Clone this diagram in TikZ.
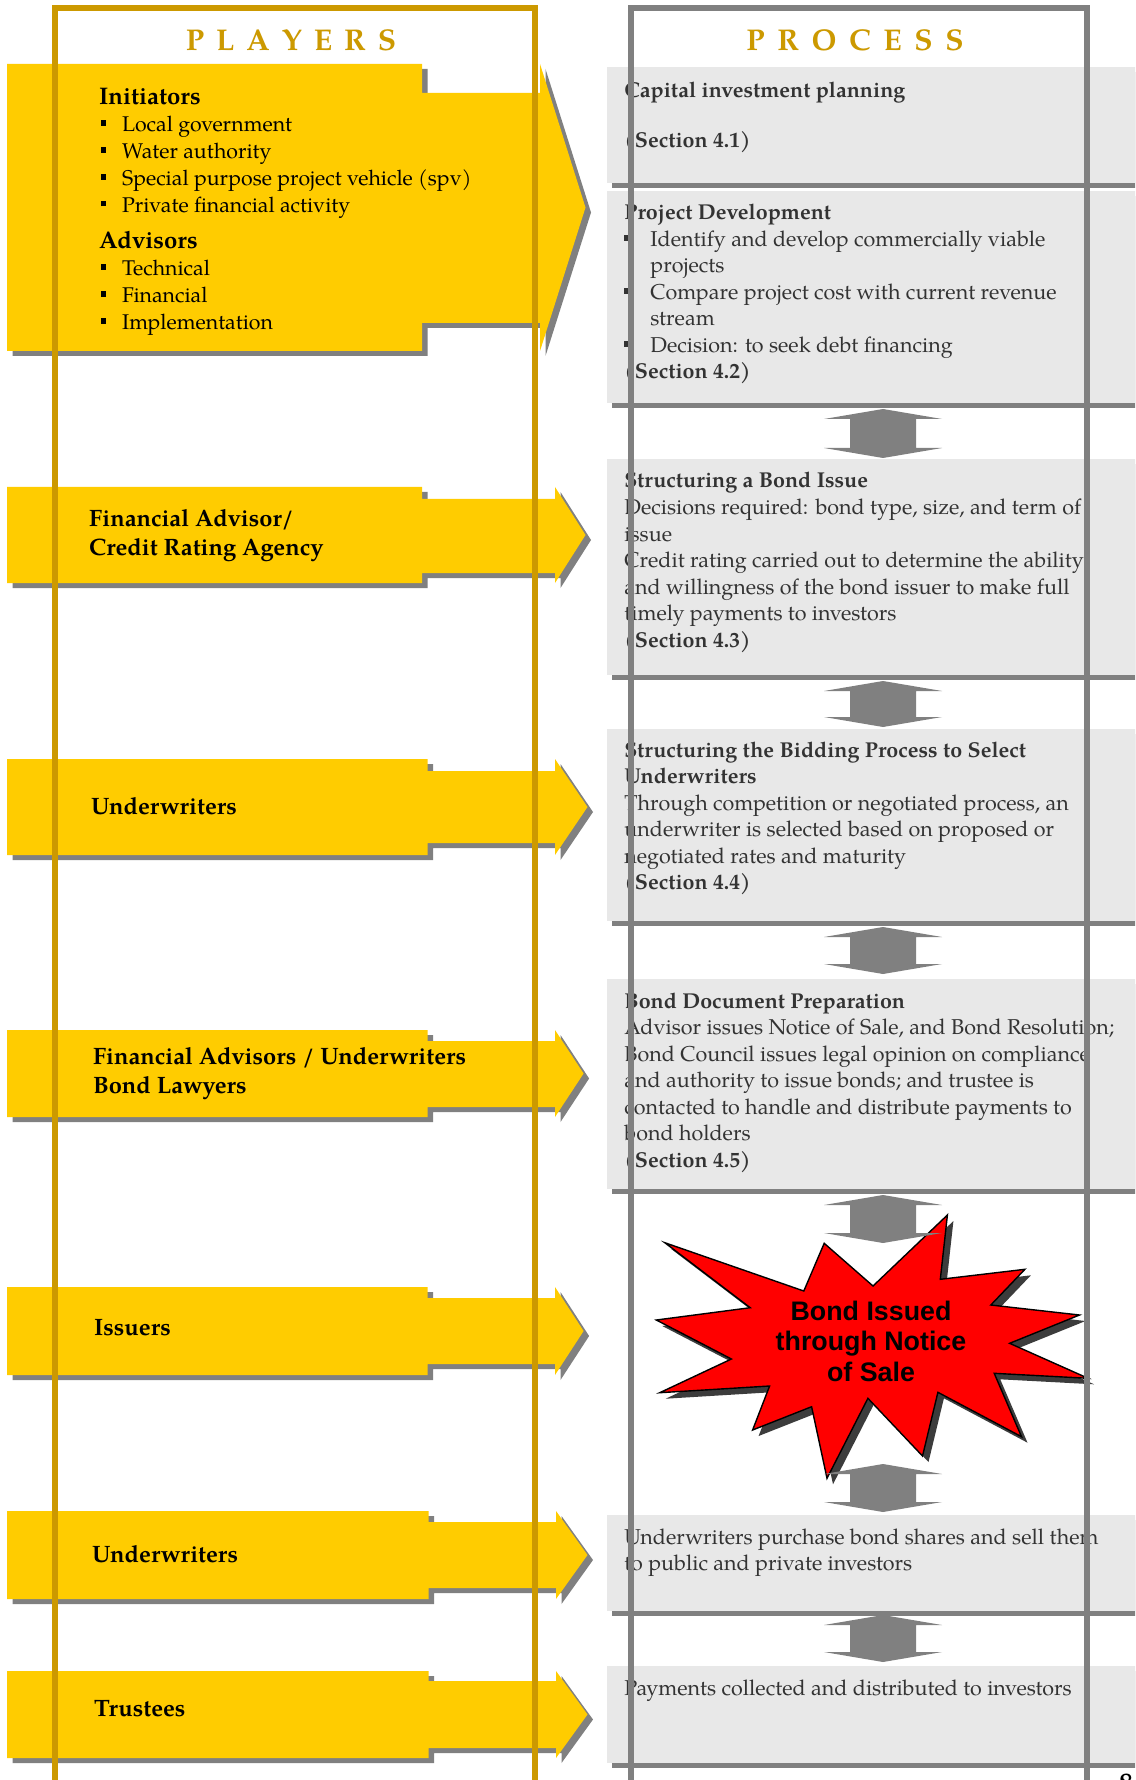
\documentclass[tikz,border=0pt]{standalone}
\usepackage{fontspec}
\setmainfont{TeX Gyre Pagella}
\newfontfamily\starfont{Liberation Sans}
\definecolor{gold}{RGB}{255,204,0}
\definecolor{darkgold}{RGB}{204,153,0}
\definecolor{shadowgray}{RGB}{128,128,128}
\definecolor{boxgray}{RGB}{232,232,232}
\definecolor{proctext}{RGB}{51,51,51}
\definecolor{starshadow}{RGB}{60,60,60}
\newcommand\plbul{\makebox[11.5pt][l]{\hspace{0.8pt}\raisebox{2.9pt}{\rule{2.8pt}{2.8pt}}}}
\newcommand\prbul{\makebox[13pt][l]{\hspace{-0.3pt}\raisebox{2.9pt}{\rule{3pt}{3pt}}}}
% T B S st sb H X
\newcommand\playerarrow[7]{%
  \fill[shadowgray,shift={(5.5,5)}] (7,#1) -- (#3,#1) -- (#3,#4) -- (#6,#4) -- (#6,#1) -- (#7,{(#1+#2)/2}) -- (#6,#2) -- (#6,#5) -- (#3,#5) -- (#3,#2) -- (7,#2) -- cycle;
  \fill[gold] (7,#1) -- (#3,#1) -- (#3,#4) -- (#6,#4) -- (#6,#1) -- (#7,{(#1+#2)/2}) -- (#6,#2) -- (#6,#5) -- (#3,#5) -- (#3,#2) -- (7,#2) -- cycle;}
\newcommand\procbox[2]{%
  \fill[shadowgray] (612,#1+5) rectangle (1140,#2+5);
  \fill[boxgray] (607,#1) rectangle (1140,#2);}
\newcommand\procarrow[2]{%
  \fill[shadowgray] (883,#1) -- (942,#1+10) -- (916,#1+10) -- (916,#2-10) -- (942,#2-10) -- (883,#2) -- (824,#2-10) -- (850,#2-10) -- (850,#1+10) -- (824,#1+10) -- cycle;}
\newcommand\burst[1]{%
  \path[#1] (656.3,1320) -- (750.2,1307.7) -- (664.8,1242.7) -- (803.8,1291) -- (824.2,1243.3) -- (873,1286) -- (947.4,1215) -- (940.3,1279.3) -- (1024.9,1269.3) -- (990.8,1305) -- (1079.5,1315) -- (1009.6,1343.3) -- (1088.1,1378.3) -- (994.2,1373.3) -- (1021.5,1436.7) -- (937.9,1392.3) -- (922.5,1456) -- (867.9,1398.3) -- (827,1478.3) -- (811.6,1406.7) -- (752.6,1430) -- (769.6,1386) -- (659.7,1392.7) -- (731.4,1359) -- cycle;}
\tikzset{
  ptext/.style={anchor=base west, inner sep=0pt, text=proctext, font=\fontsize{10.75}{13.25}\selectfont},
  pltext/.style={anchor=base west, inner sep=0pt, text=black, font=\fontsize{11.85}{14.5}\selectfont\bfseries},
  heading/.style={anchor=base, inner sep=0pt, text=darkgold, font=\fontsize{15}{18}\selectfont\bfseries},
}
\newcommand\plhead[1]{{\fontsize{12}{13.4}\selectfont\bfseries #1}}
\begin{document}
\begin{tikzpicture}[x=0.5pt,y=-0.5pt,line join=miter]
\useasboundingbox (0,0) rectangle (1135,1780);
\clip (0,0) rectangle (1135,1780);
\fill[white] (0,0) rectangle (1135,1780);
% player arrows
\playerarrow{64}{351}{422}{93}{323}{540}{585.5}
\playerarrow{487}{583}{422}{499}{573}{555}{585.5}
\playerarrow{759}{855}{427.5}{771}{843}{555}{587.5}
\playerarrow{1030}{1117}{427.5}{1041}{1107}{555}{583.6}
\playerarrow{1287}{1375}{427.5}{1298}{1364}{555}{583.6}
\playerarrow{1511}{1599}{428.6}{1522}{1588}{556}{587.5}
\playerarrow{1671}{1758}{428.6}{1681}{1748}{556}{587.5}
% player texts
\node[anchor=base west, inner sep=0pt, font=\fontsize{10.65}{13.4}\selectfont] (init) at (98.7,105) {\parbox[t]{240pt}{\plhead{Initiators}\\
\plbul Local government\\
\plbul Water authority\\
\plbul Special purpose project vehicle (spv)\\
\plbul Private financial activity\\[5pt]
\plhead{Advisors}\\
\plbul Technical\\
\plbul Financial\\
\plbul Implementation}};
\node[pltext] (fa) at (88.8,526) {\parbox[t]{240pt}{Financial Advisor/\\Credit Rating Agency}};
\node[pltext] (uw1) at (90.7,814) {Underwriters};
\node[pltext] (fau) at (92.6,1064) {\parbox[t]{240pt}{Financial Advisors / Underwriters\\Bond Lawyers}};
\node[pltext] (iss) at (93.8,1335) {Issuers};
\node[pltext] (uw2) at (91.8,1562) {Underwriters};
\node[pltext] (tru) at (93.8,1716) {Trustees};
% process boxes
\procbox{67}{183}
\procbox{191}{403}
\procbox{459}{675}
\procbox{729}{921}
\procbox{979}{1189}
\procbox{1515}{1611}
\procbox{1666}{1763}
\node[ptext] (p1) at (624,98) {\parbox[t]{300pt}{\textbf{Capital investment planning}\\[11.75pt]\textbf{(Section 4.1)}}};
\node[ptext] (p2) at (624,220) {\parbox[t]{300pt}{\textbf{Project Development}\\
\prbul Identify and develop commercially viable\\
\hspace*{13pt}projects\\
\prbul Compare project cost with current revenue\\
\hspace*{13pt}stream\\
\prbul Decision: to seek debt financing\\
\textbf{(Section 4.2)}}};
\node[ptext] (p3) at (624,488) {\parbox[t]{300pt}{\textbf{Structuring a Bond Issue}\\
Decisions required: bond type, size, and term of\\
issue\\
Credit rating carried out to determine the ability\\
and willingness of the bond issuer to make full\\
timely payments to investors\\
\textbf{(Section 4.3)}}};
\node[ptext] (p4) at (624,757) {\parbox[t]{300pt}{\textbf{Structuring the Bidding Process to Select}\\
\textbf{Underwriters}\\
Through competition or negotiated process, an\\
underwriter is selected based on proposed or\\
negotiated rates and maturity\\
\textbf{(Section 4.4)}}};
\node[ptext] (p5) at (624,1008) {\parbox[t]{300pt}{\textbf{Bond Document Preparation}\\
Advisor issues Notice of Sale, and Bond Resolution;\\
Bond Council issues legal opinion on compliance\\
and authority to issue bonds; and trustee is\\
contacted to handle and distribute payments to\\
bond holders\\
\textbf{(Section 4.5)}}};
\node[ptext] (p6) at (624,1544) {\parbox[t]{300pt}{Underwriters purchase bond shares and sell them\\
to public and private investors}};
\node[ptext] (p7) at (624,1695) {Payments collected and distributed to investors};
% star
\burst{fill=starshadow,shift={(6,6)}}
\burst{fill=red,draw=black,line width=0.7pt}
\node[anchor=base, inner sep=0pt, font={\starfont\bfseries\fontsize{13.4}{15.4}\selectfont}] (starlbl) at (871,1320) {\begin{tabular}[t]{@{}c@{}}Bond Issued\\through Notice\\of Sale\end{tabular}};
% process arrows
\procarrow{409}{458}
\procarrow{681}{727}
\procarrow{927}{974}
\procarrow{1195}{1243}
\procarrow{1464}{1512}
\procarrow{1615}{1662}
% headings
\node[heading] (players) at (291,50.7) {P\hspace{6pt}L\hspace{6pt}A\hspace{6pt}Y\hspace{6pt}E\hspace{6pt}R\hspace{6pt}S};
\node[heading] (process) at (855,50.7) {P\hspace{6.3pt}R\hspace{6.3pt}O\hspace{6.3pt}C\hspace{6.3pt}E\hspace{6.3pt}S\hspace{6.3pt}S};
% frames
\draw[darkgold, line width=2.85pt] (55.3,1800) -- (55.3,8) -- (535,8) -- (535,1800);
\draw[shadowgray, line width=3pt] (631,1800) -- (631,8) -- (1087,8) -- (1087,1800);
% page number (cut off at the page edge)
\node[anchor=base, inner sep=0pt, font=\fontsize{14}{16}\selectfont\bfseries] (pagenum) at (1126,1792) {8};
\end{tikzpicture}
\end{document}
